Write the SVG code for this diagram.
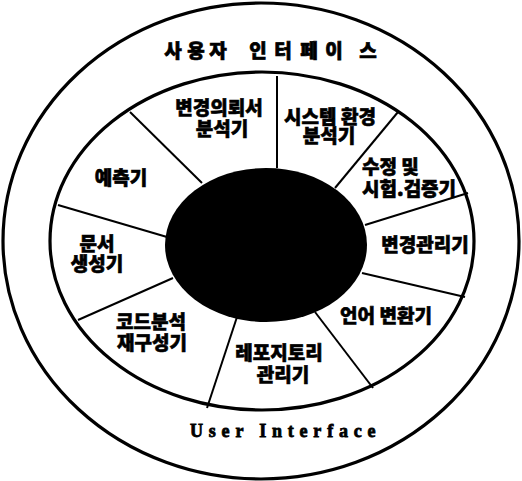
<svg xmlns="http://www.w3.org/2000/svg" width="522" height="481" viewBox="0 0 522 481">
<style>
.ring{fill:none;stroke:#000;stroke-width:3.2}
.div{stroke:#000;stroke-width:2;fill:none}
.k{font-family:"Noto Sans CJK KR","Noto Sans",sans-serif;font-weight:900;font-size:19px;fill:#000;stroke:#000;stroke-width:0.6;text-anchor:middle}
.t{font-family:"Noto Sans CJK KR","Noto Sans",sans-serif;font-weight:900;font-size:19px;fill:#000;stroke:#000;stroke-width:0.7;text-anchor:middle}
.e{font-family:"Liberation Serif",serif;font-weight:700;font-size:18px;fill:#000;stroke:#000;stroke-width:0.8;letter-spacing:5.8px}
</style>
<rect width="522" height="481" fill="#fff"/>
<g id="outer-ring">
<ellipse class="ring" cx="261" cy="241" rx="258" ry="238"/>
<text class="t" x="173 196 218 238 258 283 309 334 368" y="58">사용자 인터페이스</text>
<text class="e" x="190" y="437">User  Interface</text>
</g>
<g id="inner-ring">
<ellipse class="ring" cx="262" cy="241" rx="212" ry="169"/>
</g>
<g id="core">
<ellipse cx="266" cy="245" rx="101" ry="77" fill="#000"/>
</g>
<g id="connectors">
<line class="div" x1="277" y1="76" x2="277" y2="168"/>
<line class="div" x1="398" y1="112" x2="335" y2="188"/>
<line class="div" x1="468" y1="193" x2="365" y2="225"/>
<line class="div" x1="362" y1="273" x2="465" y2="297"/>
<line class="div" x1="315" y1="312" x2="373" y2="388"/>
<line class="div" x1="237" y1="317" x2="207" y2="408"/>
<line class="div" x1="173" y1="278" x2="78" y2="320"/>
<line class="div" x1="167" y1="237" x2="58" y2="205"/>
<line class="div" x1="202" y1="183" x2="130" y2="112"/>
</g>
<g id="change-request-analyzer"><text class="k" x="219" y="115">변경의뢰서<tspan x="222" dy="21">분석기</tspan></text></g>
<g id="system-env-analyzer"><text class="k" x="330" y="124">시스템 환경<tspan x="329" dy="19">분석기</tspan></text></g>
<g id="modify-test-verifier"><text class="k" x="362" y="174" style="text-anchor:start">수정 및<tspan x="362" dy="22">시험.검증기</tspan></text></g>
<g id="change-manager"><text class="k" x="425" y="252">변경관리기</text></g>
<g id="language-converter"><text class="k" x="386" y="323">언어 변환기</text></g>
<g id="repository-manager"><text class="k" x="279" y="360">레포지토리<tspan x="283" dy="22">관리기</tspan></text></g>
<g id="code-analyzer-restructurer"><text class="k" x="151" y="329">코드분석<tspan x="152" dy="21">재구성기</tspan></text></g>
<g id="document-generator"><text class="k" x="97" y="251">문서<tspan x="97" dy="20">생성기</tspan></text></g>
<g id="predictor"><text class="k" x="121" y="185">예측기</text></g>
</svg>
